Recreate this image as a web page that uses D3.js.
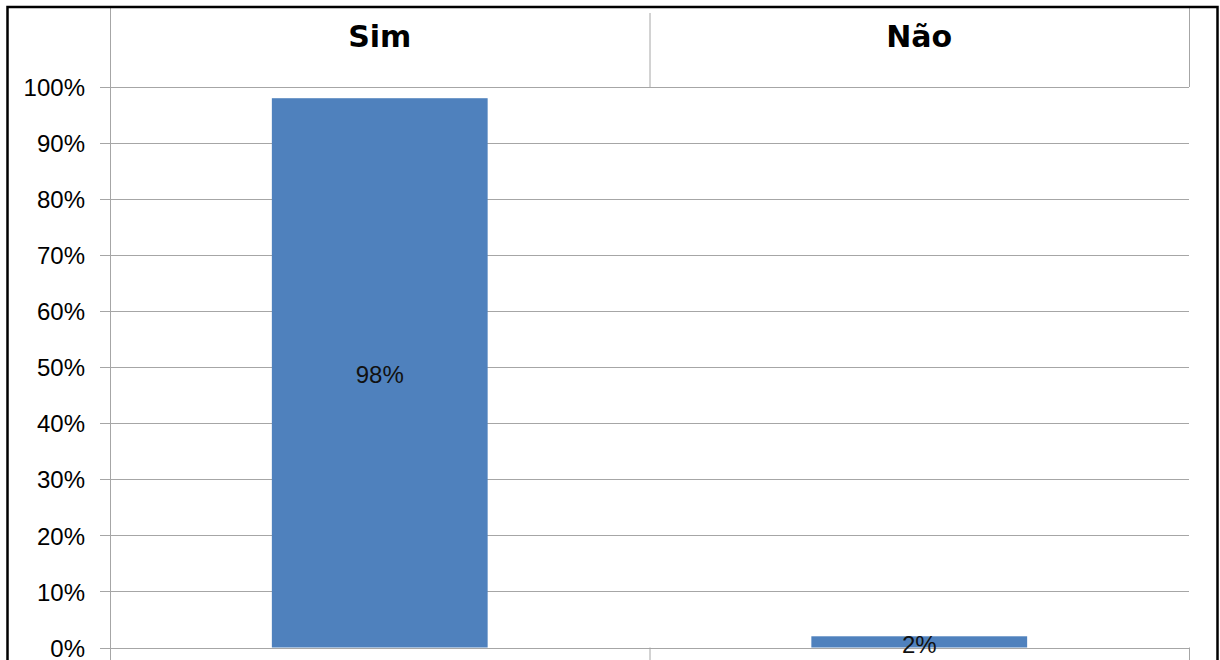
<!DOCTYPE html>
<html>
<head>
<meta charset="utf-8">
<script src="https://cdn.jsdelivr.net/npm/d3@7"></script>
<style>
  html, body { margin: 0; padding: 0; background: #fff; }
  svg { display: block; }
</style>
</head>
<body>
<svg id="chart" width="1220" height="660"></svg>
<script>
// Respostas: share of answers per option
const categories = ["Sim", "Não"];
const values = [0.98, 0.02];
const yTicks = [0, 0.1, 0.2, 0.3, 0.4, 0.5, 0.6, 0.7, 0.8, 0.9, 1.0];

const W = 1220, H = 660;
const plot = { left: 110, right: 1189, top: 87, bottom: 647.5 };
const headerTop = 8;
const gridColor = "#a6a6a6";
const barColor = "#4f81bd";

const svg = d3.select("#chart");

const x = d3.scaleBand()
  .domain(categories)
  .range([plot.left, plot.right])
  .paddingInner(0.6)
  .paddingOuter(0.3);

// category slots (full width per category, used for header/dividers)
const slot = d3.scaleBand()
  .domain(categories)
  .range([plot.left, plot.right])
  .padding(0);

const y = d3.scaleLinear()
  .domain([0, 1])
  .range([plot.bottom, plot.top]);

// horizontal gridlines with outside tick marks
const yAxis = d3.axisLeft(y)
  .tickValues(yTicks)
  .tickFormat(d3.format(".0%"))
  .tickSize(-(plot.right - plot.left + 10))
  .tickPadding(15);

const gy = svg.append("g")
  .attr("transform", `translate(${plot.right},0)`)
  .call(yAxis);
gy.select(".domain").remove();
gy.selectAll(".tick line")
  .attr("x1", -(plot.right - plot.left + 10))
  .attr("x2", 0)
  .attr("stroke", gridColor)
  .attr("stroke-width", 1)
  .attr("shape-rendering", "crispEdges");
gy.selectAll(".tick text")
  .attr("x", -(plot.right - plot.left + 10) - 15)
  .attr("font-family", "'Liberation Sans', Arial, sans-serif")
  .attr("font-size", 24)
  .attr("fill", "#000")
  .attr("dy", "0.36em");

// left value-axis line, full height
svg.append("line")
  .attr("x1", plot.left + 0.5).attr("x2", plot.left + 0.5)
  .attr("y1", headerTop).attr("y2", H + 5)
  .attr("stroke", gridColor).attr("stroke-width", 1);

// header box for category labels
svg.append("line")
  .attr("x1", plot.right + 0.5).attr("x2", plot.right + 0.5)
  .attr("y1", headerTop).attr("y2", plot.top)
  .attr("stroke", gridColor).attr("stroke-width", 1);
svg.append("line")
  .attr("x1", slot("Não") + 0.5).attr("x2", slot("Não") + 0.5)
  .attr("y1", 13).attr("y2", plot.top)
  .attr("stroke", gridColor).attr("stroke-width", 1);

// lower category strip
[slot("Não"), plot.right].forEach(px => {
  svg.append("line")
    .attr("x1", px + 0.5).attr("x2", px + 0.5)
    .attr("y1", plot.bottom).attr("y2", H + 5)
    .attr("stroke", gridColor).attr("stroke-width", 1);
});

// category labels at top
svg.append("g").selectAll("text")
  .data(categories)
  .join("text")
  .attr("x", d => slot(d) + slot.bandwidth() / 2)
  .attr("y", 47)
  .attr("text-anchor", "middle")
  .attr("font-family", "'DejaVu Sans', sans-serif")
  .attr("font-weight", "bold")
  .attr("font-size", 30)
  .attr("fill", "#000")
  .text(d => d);

// bars
svg.append("g").selectAll("rect")
  .data(categories.map((c, i) => ({ c, v: values[i] })))
  .join("rect")
  .attr("x", d => x(d.c))
  .attr("width", x.bandwidth())
  .attr("y", d => y(d.v))
  .attr("height", d => y(0) - y(d.v))
  .attr("fill", barColor);

// value labels centered in bars
svg.append("g").selectAll("text")
  .data(categories.map((c, i) => ({ c, v: values[i] })))
  .join("text")
  .attr("x", d => x(d.c) + x.bandwidth() / 2)
  .attr("y", d => (y(d.v) + y(0)) / 2 + 2)
  .attr("dy", "0.36em")
  .attr("text-anchor", "middle")
  .attr("font-family", "'Liberation Sans', Arial, sans-serif")
  .attr("font-size", 24)
  .attr("fill", "#111")
  .text(d => d3.format(".0%")(d.v));

// outer frame
svg.append("rect")
  .attr("x", 7.5).attr("y", 7)
  .attr("width", 1210).attr("height", H + 20)
  .attr("fill", "none")
  .attr("stroke", "#000")
  .attr("stroke-width", 2.5);
</script>
</body>
</html>
